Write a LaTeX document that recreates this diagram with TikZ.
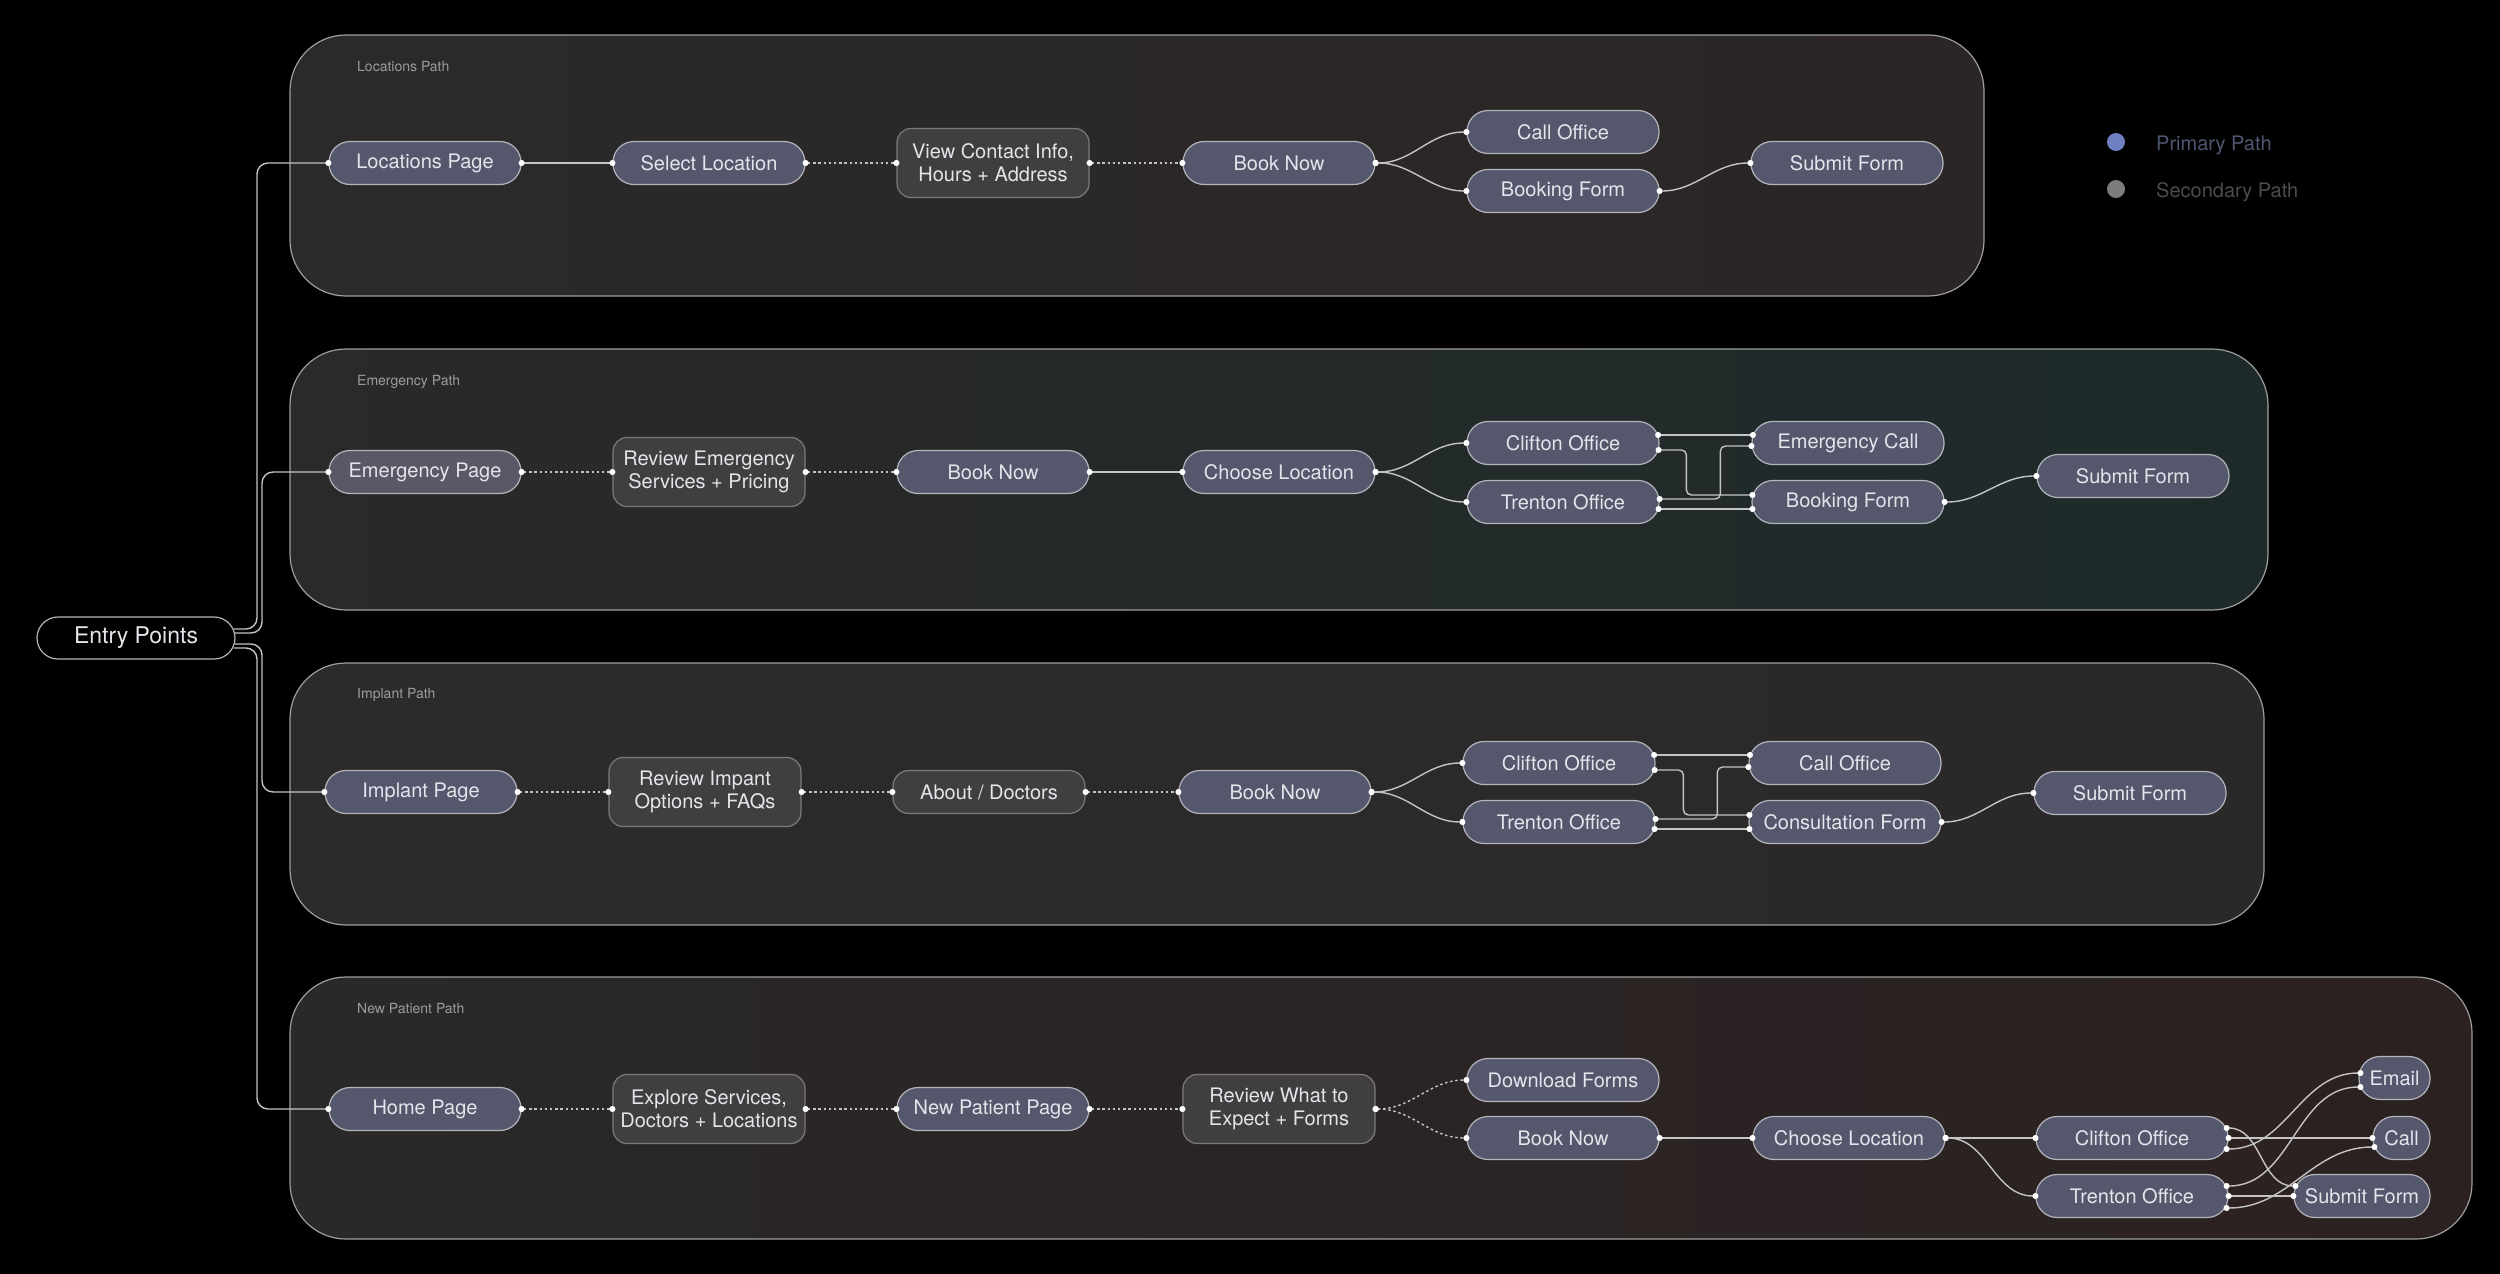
\documentclass[tikz,border=0pt]{standalone}
\usepackage{fontspec}
\setmainfont{TeX Gyre Heros}
\usetikzlibrary{arrows.meta,calc}
\definecolor{primfill}{HTML}{55586C}
\definecolor{emfill}{HTML}{5C5767}
\definecolor{secfill}{HTML}{403E3F}
\definecolor{nborder}{HTML}{B4B4BC}
\definecolor{sborder}{HTML}{7C7A7A}
\definecolor{ntext}{HTML}{E4E4EA}
\definecolor{wirec}{HTML}{C4C4C4}
\definecolor{boxborder}{HTML}{9E9E9E}
\definecolor{lbl}{HTML}{9C9C9C}
\definecolor{legblue}{HTML}{6F80C2}
\definecolor{legbluetext}{HTML}{4F5670}
\definecolor{leggrey}{HTML}{7C7C7C}
\definecolor{leggreytext}{HTML}{4C4C4C}
\tikzset{
  base/.style={rectangle, inner sep=0pt, align=center, text=ntext, line width=1.2pt, font=\fontsize{20}{23}\selectfont},
  prim/.style={base, fill=primfill, draw=nborder, rounded corners=21pt, minimum width=192pt, minimum height=43pt},
  sec/.style={base, fill=secfill, draw=sborder, rounded corners=14pt, minimum width=192pt, minimum height=69pt},
  secpill/.style={sec, minimum height=43pt, rounded corners=16pt},
  section/.style={draw=boxborder, line width=1.2pt, rounded corners=56pt},
  seclabel/.style={anchor=west, text=lbl, font=\fontsize{14}{16}\selectfont, inner sep=0pt},
  wire/.style={draw=wirec, line width=1.4pt, shorten <=-3pt, shorten >=-3pt, {Circle[length=6pt,color=white]}-{Circle[length=6pt,color=white]}},
  soft/.style={wire, dash pattern=on 2.5pt off 2.7pt},
  elbow/.style={wire, rounded corners=5pt},
  trunk/.style={draw=wirec, line width=1.4pt, rounded corners=11pt, shorten >=-3pt, -{Circle[length=6pt,color=white]}},
  legtext/.style={anchor=west, inner sep=0pt, font=\fontsize{20}{23}\selectfont},
}
\begin{document}
\begin{tikzpicture}[x=1pt,y=-1pt]
\useasboundingbox (0,0) rectangle (2500,1274);
\fill[black] (0,0) rectangle (2500,1274);

% section boxes
\draw[section, left color={rgb,255:red,43;green,41;blue,42}, right color={rgb,255:red,43;green,38;blue,37}] (290,35) rectangle (1984,296);
\draw[section, left color={rgb,255:red,43;green,41;blue,41}, right color={rgb,255:red,30;green,42;blue,42}] (290,349) rectangle (2268,610);
\draw[section, left color={rgb,255:red,44;green,42;blue,42}, right color={rgb,255:red,42;green,40;blue,40}] (290,663) rectangle (2264,925);
\draw[section, left color={rgb,255:red,42;green,40;blue,41}, right color={rgb,255:red,43;green,33;blue,32}] (290,977) rectangle (2472,1239);

\node[seclabel] (lab1) at (357,67) {Locations Path};
\node[seclabel] (lab2) at (357,382) {Emergency Path};
\node[seclabel] (lab3) at (357,695) {Implant Path};
\node[seclabel] (lab4) at (357,1008) {New Patient Path};

% legend
\node[circle, fill=legblue, minimum size=18pt, inner sep=0pt] (dotp) at (2116,142) {};
\node[legtext, text=legbluetext] (legp) at (2156,145) {Primary Path};
\node[circle, fill=leggrey, minimum size=18pt, inner sep=0pt] (dots) at (2116,189) {};
\node[legtext, text=leggreytext] (legs) at (2156,192) {Secondary Path};

% entry
\node[base, draw=nborder, fill=black, rounded corners=21pt, minimum width=198pt, minimum height=42pt, font=\fontsize{23}{26}\selectfont] (ep) at (136,638) {Entry Points};
\coordinate (trA) at (257,0);
\coordinate (trB) at (262,0);

% row 1
\node[prim] (locpage) at (425,163) {Locations Page};
\node[prim] (selloc) at (709,163) {Select Location};
\node[sec] (contact) at (993,163) {View Contact Info,\\Hours + Address};
\node[prim] (book1) at (1279,163) {Book Now};
\node[prim] (call1) at (1563,132) {Call Office};
\node[prim] (bform1) at (1563,191) {Booking Form};
\node[prim] (submit1) at (1847,163) {Submit Form};

\draw[wire] (locpage.east) -- (selloc.west);
\draw[soft] (selloc.east) -- (contact.west);
\draw[soft] (contact.east) -- (book1.west);
\draw[wire] (book1.east) to[out=0,in=180] (call1.west);
\draw[wire] (book1.east) to[out=0,in=180] (bform1.west);
\draw[wire] (bform1.east) to[out=0,in=180] (submit1.west);

% row 2
\node[prim, fill=emfill] (emerg) at (425,472) {Emergency Page};
\node[sec] (revemerg) at (709,472) {Review Emergency\\Services + Pricing};
\node[prim] (book2) at (993,472) {Book Now};
\node[prim] (choose2) at (1279,472) {Choose Location};
\node[prim] (clif2) at (1563,443) {Clifton Office};
\node[prim] (tren2) at (1563,502) {Trenton Office};
\node[prim] (ecall) at (1848,443) {Emergency Call};
\node[prim] (bform2) at (1848,502) {Booking Form};
\node[prim] (submit2) at (2133,476) {Submit Form};

\draw[soft] (emerg.east) -- (revemerg.west);
\draw[soft] (revemerg.east) -- (book2.west);
\draw[wire] (book2.east) -- (choose2.west);
\draw[wire] (choose2.east) to[out=0,in=180] (clif2.west);
\draw[wire] (choose2.east) to[out=0,in=180] (tren2.west);
\draw[wire] ($(clif2.east)+(-1.5,-8)$) -- ($(ecall.west)+(1.5,-8)$);
\draw[elbow] ($(clif2.east)+(-1,7)$) -| ($(bform2.west)+(-65,-7)$) -- ($(bform2.west)+(1,-7)$);
\draw[elbow] ($(tren2.east)+(0,-3)$) -| ($(ecall.west)+(-31,3)$) -- ($(ecall.west)+(0,3)$);
\draw[wire] ($(tren2.east)+(-1,7)$) -- ($(bform2.west)+(1,7)$);
\draw[wire] (bform2.east) to[out=0,in=180] (submit2.west);

% row 3
\node[prim] (impl) at (421,792) {Implant Page};
\node[sec] (revimpl) at (705,792) {Review Impant\\Options + FAQs};
\node[secpill] (about) at (989,792) {About / Doctors};
\node[prim] (book3) at (1275,792) {Book Now};
\node[prim] (clif3) at (1559,763) {Clifton Office};
\node[prim] (tren3) at (1559,822) {Trenton Office};
\node[prim] (call3) at (1845,763) {Call Office};
\node[prim] (consult) at (1845,822) {Consultation Form};
\node[prim] (submit3) at (2130,793) {Submit Form};

\draw[soft] (impl.east) -- (revimpl.west);
\draw[soft] (revimpl.east) -- (about.west);
\draw[soft] (about.east) -- (book3.west);
\draw[wire] (book3.east) to[out=0,in=180] (clif3.west);
\draw[wire] (book3.east) to[out=0,in=180] (tren3.west);
\draw[wire] ($(clif3.east)+(-1.5,-8)$) -- ($(call3.west)+(1.5,-8)$);
\draw[elbow] ($(clif3.east)+(-1,7)$) -| ($(consult.west)+(-65,-7)$) -- ($(consult.west)+(1,-7)$);
\draw[elbow] ($(tren3.east)+(0,-3)$) -| ($(call3.west)+(-31,4)$) -- ($(call3.west)+(0,4)$);
\draw[wire] ($(tren3.east)+(-1,7)$) -- ($(consult.west)+(1,7)$);
\draw[wire] (consult.east) to[out=0,in=180] (submit3.west);

% row 4
\node[prim] (home) at (425,1109) {Home Page};
\node[sec] (explore) at (709,1109) {Explore Services,\\Doctors + Locations};
\node[prim] (newpat) at (993,1109) {New Patient Page};
\node[sec] (review4) at (1279,1109) {Review What to\\Expect + Forms};
\node[prim] (download) at (1563,1080) {Download Forms};
\node[prim] (book4) at (1563,1138) {Book Now};
\node[prim] (choose4) at (1849,1138) {Choose Location};
\node[prim] (clif4) at (2132,1138) {Clifton Office};
\node[prim] (tren4) at (2132,1196) {Trenton Office};
\node[prim, minimum width=71pt] (email) at (2394.5,1078) {Email};
\node[prim, minimum width=57pt] (call4) at (2401.5,1138) {Call};
\node[prim, minimum width=136pt] (submit4) at (2362,1196) {Submit Form};

\draw[soft] (home.east) -- (explore.west);
\draw[soft] (explore.east) -- (newpat.west);
\draw[soft] (newpat.east) -- (review4.west);
\draw[soft] (review4.east) to[out=0,in=180] (download.west);
\draw[soft] (review4.east) to[out=0,in=180] (book4.west);
\draw[wire] (book4.east) -- (choose4.west);
\draw[wire] (choose4.east) -- (clif4.west);
\draw[wire] (choose4.east) to[out=0,in=180] (tren4.west);
\draw[wire] ($(clif4.east)+(-2,-10)$) to[out=0,in=180] ($(submit4.west)+(2,-10)$);
\draw[wire] (clif4.east) -- (call4.west);
\draw[wire] ($(clif4.east)+(-2,11)$) to[out=0,in=180] ($(email.west)+(2,-5)$);
\draw[wire] ($(tren4.east)+(-2,-10)$) to[out=0,in=180] ($(email.west)+(2,9)$);
\draw[wire] (tren4.east) -- (submit4.west);
\draw[wire] ($(tren4.east)+(-2,12)$) to[out=0,in=180] ($(call4.west)+(2,9)$);

% trunks from entry points
\draw[trunk] ($(ep.east)+(-2,-9)$) -| (trA |- locpage.west) -- (locpage.west);
\draw[trunk] ($(ep.east)+(-1,-5)$) -| (trB |- emerg.west) -- (emerg.west);
\draw[trunk] ($(ep.east)+(-1,6)$) -| (trB |- impl.west) -- (impl.west);
\draw[trunk] ($(ep.east)+(-2,10)$) -| (trA |- home.west) -- (home.west);
\end{tikzpicture}
\end{document}
